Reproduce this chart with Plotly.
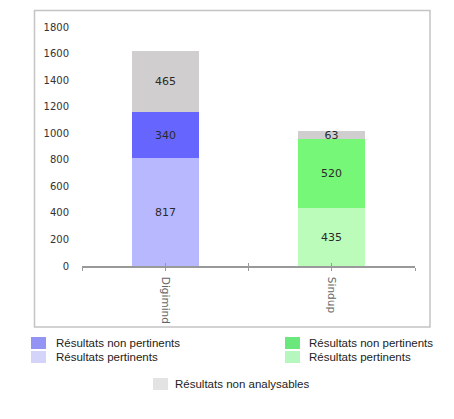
import plotly.graph_objects as go

# ---- data ----
categories = ["Digimind", "Sindup"]
pertinents = [817, 435]
non_pertinents = [340, 520]
non_analysables = [465, 63]
y_ticks = [0, 200, 400, 600, 800, 1000, 1200, 1400, 1600, 1800]

legend_labels_left = ["Résultats non pertinents", "Résultats pertinents"]
legend_labels_right = ["Résultats non pertinents", "Résultats pertinents"]
legend_label_bottom = "Résultats non analysables"

# ---- styles ----
W, H = 454, 419
L, R, T, B = 82, 415, 27, 266  # plot area in px
pw, ph = R - L, B - T

def px(x):
    return (x - L) / pw

def py(y):
    return (B - y) / ph

col_dp, col_dnp = "#b8b8ff", "#6666ff"
col_sp, col_snp = "#bbfcbb", "#77f777"
col_na = "#d0cece"
leg_dnp, leg_dp = "#9494f5", "#d4d4fa"
leg_snp, leg_sp = "#6ae87c", "#b6f6bf"
leg_na = "#e3e3e3"

xpos = list(range(len(categories)))
txtfont = dict(family="DejaVu Sans", size=11, color="#2a2a2a")

fig = go.Figure()

def add_bar(xi, val, color):
    fig.add_trace(go.Bar(
        x=[xpos[xi]], y=[val], width=0.4, marker=dict(color=color, line=dict(width=0)),
        text=[str(val)], textposition="inside", insidetextanchor="middle",
        constraintext="none", textfont=txtfont, showlegend=False, hoverinfo="skip",
        cliponaxis=False,
    ))

add_bar(0, pertinents[0], col_dp)
add_bar(1, pertinents[1], col_sp)
add_bar(0, non_pertinents[0], col_dnp)
add_bar(1, non_pertinents[1], col_snp)
fig.add_trace(go.Bar(
    x=xpos, y=non_analysables, width=0.4, marker=dict(color=col_na, line=dict(width=0)),
    text=[str(v) for v in non_analysables], textposition="inside", insidetextanchor="middle",
    constraintext="none", textfont=txtfont, showlegend=False, hoverinfo="skip",
    cliponaxis=False,
))

# invisible trace for the second x axis (inside ticks)
fig.add_trace(go.Scatter(x=[0], y=[0], xaxis="x2", mode="markers",
                         marker=dict(opacity=0), showlegend=False, hoverinfo="skip"))

tickvals = [-0.5, 0, 0.5, 1, 1.5]
ticktext = ["", categories[0], "", categories[1], ""]

fig.update_layout(
    width=W, height=H,
    margin=dict(l=L, r=W - R, t=T, b=H - B, pad=0),
    paper_bgcolor="white", plot_bgcolor="white",
    barmode="stack", bargap=0,
    showlegend=False,
    xaxis=dict(range=[-0.5, 1.5], tickmode="array", tickvals=tickvals, ticktext=ticktext,
               tickangle=90, ticks="outside", ticklen=3, tickcolor="#999999", tickwidth=1.2,
               showline=True, linecolor="#999999", linewidth=1.5, showgrid=False, zeroline=False,
               ticklabelstandoff=4,
               tickfont=dict(family="DejaVu Sans", size=10.5, color="#666666")),
    xaxis2=dict(range=[-0.5, 1.5], overlaying="x", side="bottom", tickmode="array",
                tickvals=tickvals, ticktext=[""] * 5, ticks="inside", ticklen=3,
                tickcolor="#999999", tickwidth=1.2, showline=False, showgrid=False,
                zeroline=False, anchor="y"),
    yaxis=dict(range=[0, 1800], tickmode="array", tickvals=y_ticks,
               ticktext=[str(v) for v in y_ticks], showgrid=False, zeroline=False,
               showline=False, ticks="", ticklabelstandoff=12,
               tickfont=dict(family="DejaVu Sans", size=10, color="#333333")),
    font=dict(family="DejaVu Sans"),
)

shapes = []
annotations = []
# outer frame
shapes.append(dict(type="rect", xref="paper", yref="paper",
                   x0=px(34.5), x1=px(430), y0=py(327), y1=py(10.5),
                   line=dict(color="#c4c4c4", width=1.5), fillcolor="rgba(0,0,0,0)", layer="below"))

legfont = dict(family="Liberation Sans", size=11.5, color="#222222")

def leg_item(x0, yc, color, label, tx):
    shapes.append(dict(type="rect", xref="paper", yref="paper",
                       x0=px(x0), x1=px(x0 + 15), y0=py(yc + 6), y1=py(yc - 6),
                       line=dict(width=0), fillcolor=color))
    annotations.append(dict(xref="paper", yref="paper", x=px(tx), y=py(yc),
                            xanchor="left", yanchor="middle", text=label,
                            showarrow=False, font=legfont))

leg_item(31, 343, leg_dnp, legend_labels_left[0], 54)
leg_item(31, 357, leg_dp, legend_labels_left[1], 54)
leg_item(285, 343, leg_snp, legend_labels_right[0], 307)
leg_item(285, 357, leg_sp, legend_labels_right[1], 307)
leg_item(153, 384, leg_na, legend_label_bottom, 173)

fig.update_layout(shapes=shapes, annotations=annotations)
fig.write_html("out.html")
